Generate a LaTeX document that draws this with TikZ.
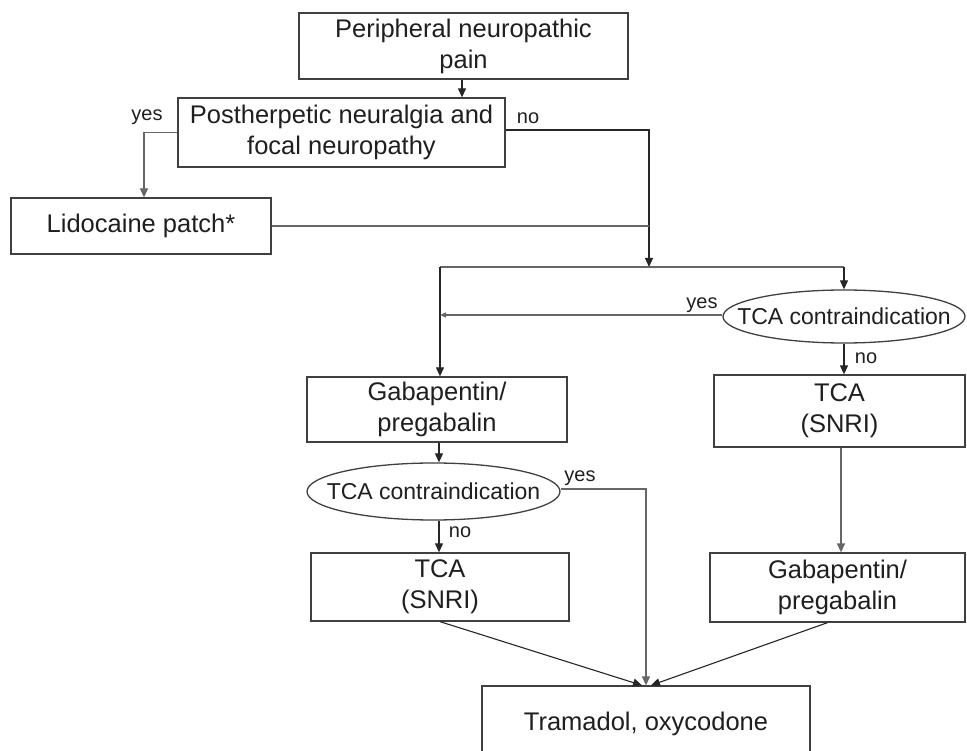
\documentclass[tikz,border=0pt]{standalone}
\usepackage{fontspec}
\setmainfont{Liberation Sans}
\usetikzlibrary{arrows.meta,shapes.geometric}
\begin{document}
\begin{tikzpicture}[x=1pt,y=-1pt,
  box/.style={draw=black!75,line width=1.3pt,rectangle,inner sep=0pt,align=center,font=\fontsize{25.5}{31}\selectfont,text=black!88},
  oval/.style={draw=black!75,line width=1.3pt,ellipse,inner sep=0pt},
  ovaltext/.style={font=\fontsize{23}{27}\selectfont,text=black!88,inner sep=0pt},
  lbl/.style={font=\fontsize{20}{24}\selectfont,text=black!88,inner sep=0pt},
  conn/.style={draw=black!85,line width=1.1pt},
  grayconn/.style={draw=black!60,line width=1.3pt},
  arr/.style={conn,-{Triangle[length=9pt,width=8pt]}},
]
\clip (0,0) rectangle (967,751);
\fill[white] (0,0) rectangle (967,751);

\node[box,minimum width=329pt,minimum height=66pt] (peri) at (463.5,46) {Peripheral neuropathic\\pain};
\node[box,minimum width=327pt,minimum height=69pt] (post) at (341.5,132.5) {Postherpetic neuralgia and\\focal neuropathy};
\node[box,minimum width=260pt,minimum height=56pt] (lido) at (141,226) {Lidocaine patch*};
\node[oval,minimum width=242pt,minimum height=53pt,label={[ovaltext]center:TCA contraindication}] (e1) at (844,316.5) {};
\node[box,minimum width=251pt,minimum height=72pt] (tcaR) at (839.5,411) {TCA\\(SNRI)};
\node[box,minimum width=260pt,minimum height=65pt] (gabL) at (437,409.5) {Gabapentin/\\pregabalin};
\node[oval,minimum width=253pt,minimum height=57pt,label={[ovaltext]center:TCA contraindication}] (e2) at (433.5,491.5) {};
\node[box,minimum width=258pt,minimum height=68pt] (tcaL) at (440,587) {TCA\\(SNRI)};
\node[box,minimum width=255pt,minimum height=69pt] (gabR) at (837.5,587.5) {Gabapentin/\\pregabalin};
\node[box,minimum width=328pt,minimum height=76pt] (tram) at (646,724) {Tramadol, oxycodone};

\node[lbl] (yes1) at (147,117) {yes};
\node[lbl] (no1) at (528,118) {no};
\node[lbl] (yes2) at (702,305) {yes};
\node[lbl] (no2) at (866,358) {no};
\node[lbl] (yes3) at (580,478) {yes};
\node[lbl] (no3) at (460,532) {no};

\coordinate (j1) at (649,267);
\coordinate (jl) at (440,267);
\coordinate (jr) at (844,267);

\draw[arr] ([xshift=-1.5pt]peri.south) -- ([xshift=-1.5pt]peri.south |- post.north);
\draw[arr,grayconn] (post.west) -| ([xshift=3pt]lido.north);
\draw[arr] ([yshift=2.5pt]post.east) -| (j1);
\draw[grayconn] (lido.east) -- (lido.east -| j1);
\draw[grayconn] (jl) -- (jr);
\draw[arr] (jr) -- (e1.north);
\draw[arr] (jl) -- (jl |- gabL.north);
\draw[grayconn,-{Triangle[length=6pt,width=5pt]}] ([yshift=1.5pt]e1.west) -- ([yshift=1.5pt]e1.west -| jl);
\draw[arr] (e1.south) -- (e1.south |- tcaR.north);
\draw[arr] ([xshift=2pt]gabL.south) -- ([xshift=2pt]gabL.south |- e2.north);
\draw[arr,grayconn] ([yshift=2.5pt]e2.east) -| (tram.north);
\draw[arr] ([xshift=5.5pt]e2.south) -- ([xshift=5.5pt]e2.south |- tcaL.north);
\draw[arr] (tcaL.south) -- ([xshift=-4pt]tram.north);
\draw[arr,grayconn] ([xshift=1.5pt]tcaR.south) -- ([xshift=1.5pt]tcaR.south |- gabR.north);
\draw[arr] ([xshift=-10pt]gabR.south) -- ([xshift=5pt]tram.north);
\end{tikzpicture}
\end{document}
